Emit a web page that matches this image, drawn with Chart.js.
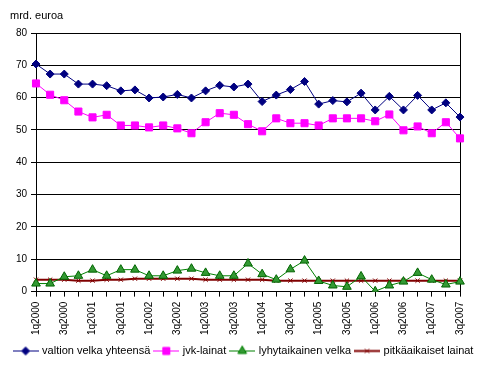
<!DOCTYPE html>
<html>
<head>
<meta charset="utf-8">
<script src="https://cdn.jsdelivr.net/npm/chart.js@4/dist/chart.umd.min.js"></script>
<style>
  html, body { margin: 0; padding: 0; background: #fff; }
  #wrap { width: 499px; height: 370px; }
</style>
</head>
<body>
<div id="wrap"><canvas id="velkaChart"></canvas></div>
<script>
let quarters = [
	'1q2000','2q2000','3q2000','4q2000','1q2001','2q2001','3q2001','4q2001',
	'1q2002','2q2002','3q2002','4q2002','1q2003','2q2003','3q2003','4q2003',
	'1q2004','2q2004','3q2004','4q2004','1q2005','2q2005','3q2005','4q2005',
	'1q2006','2q2006','3q2006','4q2006','1q2007','2q2007','3q2007'
]
let yhteensa = [70.4,67.3,67.3,64.2,64.2,63.7,62.1,62.4,59.9,60.2,61.0,59.9,62.1,63.8,63.3,64.2,
	58.8,60.8,62.5,65.0,58.0,59.1,58.7,61.4,56.2,60.4,56.2,60.7,56.2,58.4,54.0]
let jvkLainat = [64.4,60.9,59.2,55.7,53.9,54.7,51.4,51.4,50.8,51.4,50.5,49.0,52.4,55.2,54.7,51.8,
	49.6,53.6,52.1,52.1,51.4,53.6,53.6,53.6,52.7,54.8,49.9,51.1,49.0,52.4,47.4]
let lyhytaikainen = [2.5,2.5,4.6,4.9,6.8,4.9,6.8,6.8,4.9,4.9,6.5,7.1,5.8,4.9,4.9,8.7,
	5.4,3.7,6.9,9.6,3.3,1.9,1.5,4.7,0.1,1.9,3.1,5.8,3.7,2.2,3.1]
let pitkaaikaiset = [3.7,3.7,3.7,3.4,3.4,3.7,3.7,4.0,4.0,4.0,4.0,4.0,3.7,3.7,3.7,3.7,
	3.7,3.4,3.4,3.4,3.4,3.4,3.4,3.4,3.4,3.4,3.4,3.4,3.4,3.4,3.4]
let yTicks = [0,10,20,30,40,50,60,70,80]

Chart.defaults.font.family = "'Liberation Sans', Arial, sans-serif"
Chart.defaults.font.size = 11
Chart.defaults.color = '#000'

// legend symbol: short line with the marker in the middle
function legendSymbol(color, fill, style, radius, lineWidth) {
	let c = document.createElement('canvas')
	c.width = 26
	c.height = 12
	let ctx = c.getContext('2d')
	ctx.strokeStyle = color
	ctx.lineWidth = lineWidth
	ctx.beginPath()
	ctx.moveTo(0, 6.5)
	ctx.lineTo(26, 6.5)
	ctx.stroke()
	ctx.fillStyle = fill
	ctx.lineWidth = 1
	Chart.helpers.drawPoint(ctx, {pointStyle: style, radius: radius, borderWidth: 1}, 13, 6.5)
	return c
}

let series = [
	{label: 'valtion velka yhteensä', data: yhteensa, color: '#000080', fill: '#000080', style: 'rectRot', r: 4, w: 1},
	{label: 'jvk-lainat', data: jvkLainat, color: '#FF00FF', fill: '#FF00FF', style: 'rect', r: 5, w: 1},
	{label: 'lyhytaikainen velka', data: lyhytaikainen, color: '#008000', fill: '#339933', style: 'triangle', r: 5, w: 1},
	{label: 'pitkäaikaiset lainat', data: pitkaaikaiset, color: '#800000', fill: '#800000', style: 'crossRot', r: 3, w: 2}
]

let datasets = series.map(s => ({
	label: s.label,
	data: s.data,
	borderColor: s.color,
	backgroundColor: s.fill,
	borderWidth: s.w,
	pointStyle: s.style,
	pointRadius: s.r,
	pointBorderColor: s.style == 'triangle' ? '#006400' : s.color,
	pointBackgroundColor: s.fill,
	pointBorderWidth: 1,
	tension: 0,
	fill: false,
	legendSymbol: legendSymbol(s.style == 'triangle' ? '#008000' : s.color, s.fill, s.style, s.r, s.w)
}))

let caption = {
	id: 'caption',
	afterDraw(chart) {
		let ctx = chart.ctx
		ctx.save()
		ctx.fillStyle = '#000'
		ctx.font = "11px 'Liberation Sans', Arial, sans-serif"
		ctx.textBaseline = 'alphabetic'
		ctx.fillText('mrd. euroa', 10, 19)
		ctx.restore()
	}
}

new Chart(document.getElementById('velkaChart'), {
	type: 'line',
	data: {labels: quarters, datasets: datasets},
	plugins: [caption],
	options: {
		responsive: true,
		maintainAspectRatio: false,
		animation: false,
		layout: {padding: {left: 0, right: 11, top: 33, bottom: 4}},
		scales: {
			x: {
				offset: false,
				grid: {display: true, drawOnChartArea: false, color: '#000', tickLength: 5},
				border: {color: '#000'},
				ticks: {
					autoSkip: false,
					maxRotation: 90,
					minRotation: 90,
					padding: 5,
					font: {size: 10},
					callback: (v, i) => i % 2 == 0 ? quarters[i] : ''
				}
			},
			y: {
				min: 0,
				max: 80,
				afterBuildTicks: s => { s.ticks = yTicks.map(v => ({value: v})) },
				afterFit: s => { s.width = 36 },
				grid: {color: '#000', tickLength: 5},
				border: {color: '#000'},
				ticks: {padding: 4, font: {size: 10}}
			},
			y2: {
				position: 'right',
				min: 0,
				max: 80,
				afterFit: s => { s.width = 28 },
				grid: {drawOnChartArea: false, drawTicks: false},
				border: {display: true, color: '#000'},
				ticks: {display: false}
			}
		},
		plugins: {
			legend: {
				position: 'bottom',
				labels: {
					usePointStyle: true,
					pointStyleWidth: 22,
					padding: 5,
					boxHeight: 11,
					generateLabels: chart => chart.data.datasets.map((d, i) => ({
						text: d.label,
						pointStyle: d.legendSymbol,
						datasetIndex: i,
						fontColor: '#000',
						lineWidth: 0,
						hidden: false
					}))
				}
			},
			tooltip: {enabled: false}
		}
	}
})
</script>
</body>
</html>
